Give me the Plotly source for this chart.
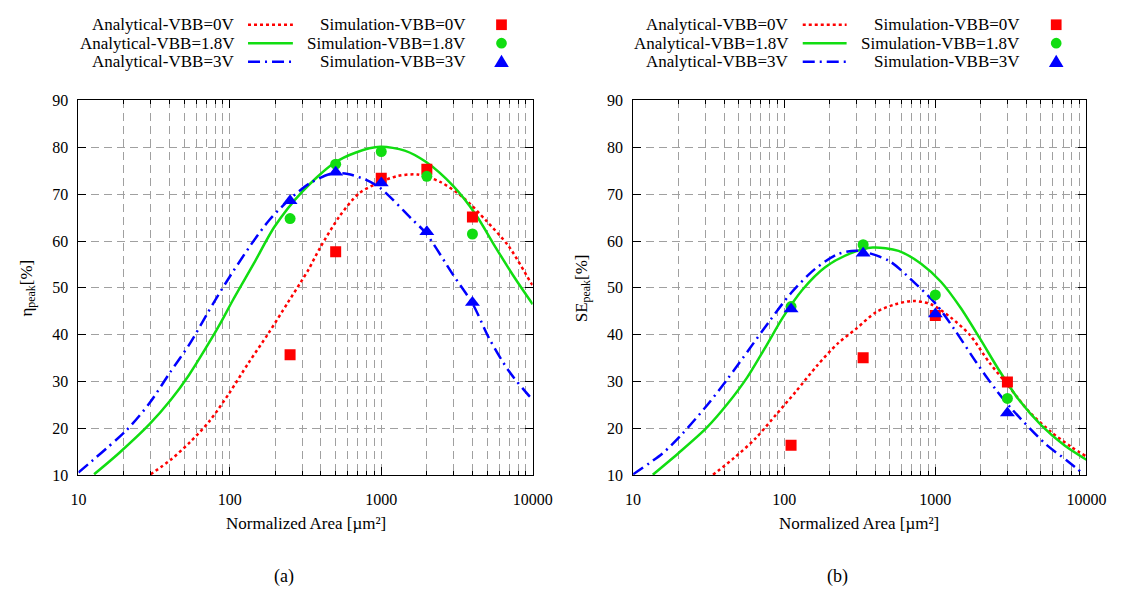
import plotly.graph_objects as go

# page is W x H; browser body keeps its 8px margin, so the figure is 16px smaller
W, H = 1131, 601
OFF = 8
FW, FH = W - 2 * OFF, H - 2 * OFF

# ---------------- data: panel (a) ----------------
a_red_x = [30, 40.7, 54.7, 73.6, 99, 133, 180, 241, 294, 332, 395, 531, 714, 986, 1294, 1740, 2454, 3475, 4910, 6940, 9770, 10000]
a_red_y = [10.2, 13.3, 17.1, 21.6, 27.5, 34.0, 40.3, 46.8, 51.2, 54.0, 58.6, 65.3, 70.2, 72.6, 73.9, 74.2, 72.6, 69.3, 64.4, 58.9, 51.0, 50.5]

a_green_x = [12.7, 18.5, 29.5, 40.8, 53.5, 68.4, 87.5, 104, 143.5, 197.7, 300, 481, 681, 986, 1429, 1968, 2993, 4236, 5700, 7660, 10000]
a_green_y = [10.2, 14.7, 20.9, 26.1, 31.3, 36.8, 42.7, 47.2, 55.1, 63.1, 70.5, 76.5, 78.9, 80.1, 79.3, 76.9, 71.7, 65.5, 58.6, 52.0, 46.5]

a_blue_x = [10, 20.9, 29.5, 40, 54.7, 71.8, 94.2, 136.5, 183.6, 250, 340, 481, 600, 789, 986, 1578, 1968, 2993, 4027, 5164, 6940, 9570, 10000]
a_blue_y = [10.6, 19.7, 25.4, 31.8, 38.2, 44.8, 51.1, 59.0, 64.6, 69.0, 72.4, 74.5, 74.3, 73.1, 71.3, 64.8, 61.7, 52.7, 46.5, 39.2, 32.3, 26.8, 26.3]

a_sim_x = [250, 500, 1000, 2000, 4000]
a_sim_red = [35.7, 57.7, 73.4, 75.3, 65.1]
a_sim_green = [64.8, 76.4, 79.1, 73.8, 61.5]
a_sim_blue = [68.6, 74.7, 72.4, 62.0, 46.9]

# ---------------- data: panel (b) ----------------
b_red_x = [33.8, 46.6, 64.3, 88.7, 119, 165, 227.5, 300, 404, 543, 713, 937, 1262, 1698, 2284, 3077, 4140, 5860, 7890, 10000]
b_red_y = [10.1, 13.7, 17.8, 23.0, 27.8, 33.4, 38.2, 41.3, 44.8, 46.5, 47.2, 46.5, 43.7, 39.9, 34.0, 28.9, 23.7, 19.2, 16.1, 14.0]

b_green_x = [13.5, 20.1, 30.6, 42.3, 56.9, 76.6, 98, 132, 186.6, 277, 385, 571, 809, 1089, 1466, 1972, 2655, 3575, 5050, 7140, 10000]
b_green_y = [10.1, 14.8, 20.1, 25.3, 30.9, 37.8, 43.7, 49.6, 54.4, 57.4, 58.6, 57.9, 55.1, 51.3, 45.8, 39.2, 32.3, 26.1, 20.6, 16.4, 13.3]

b_blue_x = [10, 15.7, 21.1, 29.9, 42.3, 58.3, 80.4, 111, 160.7, 227.5, 306, 492, 733, 1012, 1327, 1876, 2525, 3236, 5309, 7520, 9620]
b_blue_y = [10.2, 14.7, 18.8, 24.4, 30.6, 36.8, 43.0, 48.9, 54.1, 57.2, 57.9, 55.8, 51.0, 46.5, 41.3, 34.0, 28.2, 24.0, 16.8, 13.0, 10.2]

b_sim_x = [111, 333, 1000, 3000]
b_sim_red = [16.4, 35.1, 44.1, 29.9]
b_sim_green = [46.0, 59.2, 48.5, 26.4]
b_sim_blue = [45.5, 57.4, 44.4, 23.3]

x_tickvals = [10, 100, 1000, 10000]
x_ticktext = ["10", "100", "1000", "10000"]
y_tickvals = [10, 20, 30, 40, 50, 60, 70, 80, 90]

series_names = ["Analytical-VBB=0V", "Analytical-VBB=1.8V", "Analytical-VBB=3V"]
sim_names = ["Simulation-VBB=0V", "Simulation-VBB=1.8V", "Simulation-VBB=3V"]

# ---------------- styles ----------------
RED, GREEN, BLUE = "#ff0000", "#11dd11", "#0000ff"
FONT = "Liberation Serif"
GRID = "#a0a0a0"
GDASH = "8px,5px"
dashes = ["dot", "solid", "12px,5px,2px,5px"]
colors = [RED, GREEN, BLUE]
symbols = ["square", "circle", "triangle-up"]
msizes = [11, 11, 13]

fig = go.Figure()

def add_panel(xa, ya, curves, simx, sims):
    for (cx, cy), c, d, n in zip(curves, colors, dashes, series_names):
        fig.add_trace(go.Scatter(x=cx, y=cy, mode="lines", name=n, showlegend=False,
                                 line=dict(color=c, width=2.5, dash=d, shape="spline", smoothing=0.8),
                                 xaxis=xa, yaxis=ya))
    for sy, c, s, ms, n in zip(sims, colors, symbols, msizes, sim_names):
        fig.add_trace(go.Scatter(x=simx, y=sy, mode="markers", name=n, showlegend=False,
                                 marker=dict(color=c, symbol=s, size=ms, line=dict(width=0)),
                                 xaxis=xa, yaxis=ya))

add_panel("x", "y", [(a_red_x, a_red_y), (a_green_x, a_green_y), (a_blue_x, a_blue_y)],
          a_sim_x, [a_sim_red, a_sim_green, a_sim_blue])
add_panel("x2", "y2", [(b_red_x, b_red_y), (b_green_x, b_green_y), (b_blue_x, b_blue_y)],
          b_sim_x, [b_sim_red, b_sim_green, b_sim_blue])

def px(x):
    return (x - OFF) / FW

def py(y):
    return 1 - (y - OFF) / FH

ydom = [py(481), py(95)]

def xaxis_cfg(l, r, anchor):
    return dict(type="log", range=[1, 4], domain=[px(l), px(r)], anchor=anchor,
                tickmode="array", tickvals=x_tickvals, ticktext=x_ticktext,
                ticks="inside", ticklen=8, tickwidth=1, tickcolor="black",
                showline=True, linecolor="black", linewidth=1, mirror="ticks",
                showgrid=True, gridcolor=GRID, gridwidth=1, griddash=GDASH,
                zeroline=False, ticklabelstandoff=10,
                tickfont=dict(family=FONT, size=16, color="black"),
                minor=dict(dtick="D1", ticks="inside", ticklen=4, tickwidth=1, tickcolor="black",
                           showgrid=True, gridcolor=GRID, gridwidth=1, griddash=GDASH))

def yaxis_cfg(anchor):
    return dict(range=[10, 90], domain=ydom, anchor=anchor,
                tickmode="array", tickvals=y_tickvals,
                ticks="inside", ticklen=8, tickwidth=1, tickcolor="black",
                showline=True, linecolor="black", linewidth=1, mirror="ticks",
                showgrid=True, gridcolor=GRID, gridwidth=1, griddash=GDASH,
                zeroline=False, ticklabelstandoff=6,
                tickfont=dict(family=FONT, size=16, color="black"))

fig.update_layout(
    width=FW, height=FH, margin=dict(l=0, r=0, t=0, b=0),
    paper_bgcolor="white", plot_bgcolor="white", showlegend=False,
    font=dict(family=FONT, size=16, color="black"),
    xaxis=xaxis_cfg(72, 538, "y"), yaxis=yaxis_cfg("x"),
    xaxis2=xaxis_cfg(641, 1106, "y2"), yaxis2=yaxis_cfg("x2"),
)

ann = []
shapes = []

def text(x, y, t, xanchor="center", size=17, angle=0):
    ann.append(dict(x=px(x), y=py(y), xref="paper", yref="paper", text=t, showarrow=False,
                    xanchor=xanchor, yanchor="middle", textangle=angle,
                    font=dict(family=FONT, size=size, color="black")))

# axis titles & captions
text(305, 531, "Normalized Area [µm²]")
text(873, 531, "Normalized Area [µm²]")
text(20, 288, "η<sub>peak</sub>[%]", angle=-90)
text(589, 288, "SE<sub>peak</sub>[%]", angle=-90)
text(283, 585, "(a)", size=18)
text(851, 585, "(b)", size=18)

# legends (gnuplot style: text then sample)
rows = [17, 36, 55]
def legend(t1_right, l0, l1, t2_right, mx):
    for i, r in enumerate(rows):
        text(t1_right, r, series_names[i], xanchor="right")
        shapes.append(dict(type="line", xref="paper", yref="paper", x0=px(l0), x1=px(l1), y0=py(r), y1=py(r),
                           line=dict(color=colors[i], width=2.5, dash=dashes[i])))
        text(t2_right, r, sim_names[i], xanchor="right")
        s = 5.5
        if i == 0:
            shapes.append(dict(type="rect", xref="paper", yref="paper", x0=px(mx - s), x1=px(mx + s),
                               y0=py(r - s), y1=py(r + s), fillcolor=RED, line=dict(width=0)))
        elif i == 1:
            shapes.append(dict(type="circle", xref="paper", yref="paper", x0=px(mx - s), x1=px(mx + s),
                               y0=py(r - s), y1=py(r + s), fillcolor=GREEN, line=dict(width=0)))
        else:
            path = "M {} {} L {} {} L {} {} Z".format(px(mx), py(r - 7), px(mx + 7.5), py(r + 5.5),
                                                      px(mx - 7.5), py(r + 5.5))
            shapes.append(dict(type="path", xref="paper", yref="paper", path=path,
                               fillcolor=BLUE, line=dict(width=0)))

legend(235, 246, 292, 472, 506)
legend(803, 815, 860, 1040, 1075)

fig.update_layout(annotations=ann, shapes=shapes)

fig.write_html("out.html", config={"displayModeBar": False})
